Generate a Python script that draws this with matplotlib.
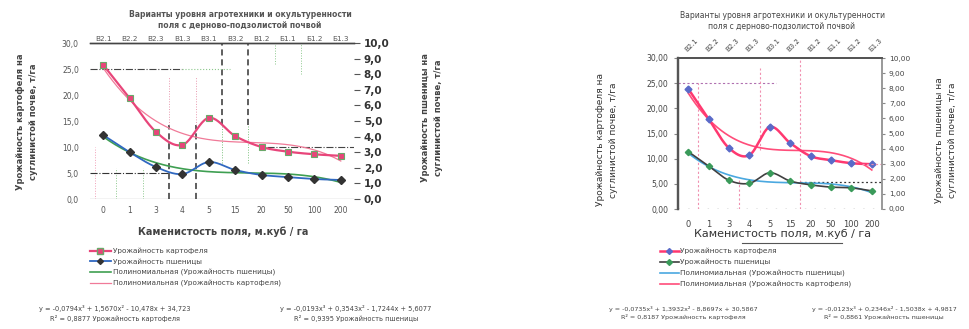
import numpy as np
import matplotlib
matplotlib.use("Agg")
import matplotlib.pyplot as plt
from matplotlib.lines import Line2D

plt.rcParams['font.family'] = ['DejaVu Sans']

# ---------------- data ----------------
stoniness = ["0", "1", "3", "4", "5", "15", "20", "50", "100", "200"]
variants = ["В2.1", "В2.2", "В2.3", "В1.3", "В3.1", "В3.2", "В1.2", "Б1.1", "Б1.2", "Б1.3"]

# panel A (left)
potato_a = [25.8, 19.4, 12.9, 10.4, 15.6, 12.1, 10.0, 9.1, 8.6, 8.3]
wheat_a = [4.1, 3.0, 2.05, 1.6, 2.37, 1.86, 1.54, 1.41, 1.28, 1.22]
eq_a_potato = "y = -0,0794x³ + 1,5670x² - 10,478x + 34,723\nR² = 0,8877 Урожайность картофеля"
eq_a_wheat = "y = -0,0193x³ + 0,3543x² - 1,7244x + 5,6077\nR² = 0,9395 Урожайность пшеницы"

# panel B (right)
potato_b = [23.9, 17.9, 12.1, 10.7, 16.3, 13.1, 10.5, 9.7, 9.1, 8.9]
wheat_b = [3.8, 2.85, 1.9, 1.7, 2.4, 1.85, 1.6, 1.45, 1.4, 1.2]

title_text = "Варианты уровня агротехники и окультуренности\nполя с дерново-подзолистой почвой"
xlabel_text = "Каменистость поля, м.куб / га"
ylabel_left = "Урожайность картофеля на\nсуглинистой почве, т/га"
ylabel_right = "Урожайность пшеницы на\nсуглинистой почве, т/га"
legend_a = ["Урожайность картофеля", "Урожайность пшеницы",
            "Полиномиальная (Урожайность пшеницы)",
            "Полиномиальная (Урожайность картофеля)"]
legend_b = ["Урожайность картофеля", "Урожайность пшеницы",
            "Полиномиальная (Урожайность пшеницы)",
            "Полиномиальная (Урожайность картофеля)"]

GRAY = "#555555"


def smooth(xs, ys, n=24):
    """Catmull-Rom curve through the points (spreadsheet-style smoothed line)."""
    p = np.column_stack([xs, ys]).astype(float)
    p = np.vstack([p[0], p, p[-1]])
    out = []
    t = np.linspace(0, 1, n)[:, None]
    for i in range(1, len(p) - 2):
        p0, p1, p2, p3 = p[i - 1], p[i], p[i + 1], p[i + 2]
        seg = 0.5 * (2 * p1 + (-p0 + p2) * t + (2 * p0 - 5 * p1 + 4 * p2 - p3) * t ** 2
                     + (-p0 + 3 * p1 - 3 * p2 + p3) * t ** 3)
        out.append(seg)
    c = np.vstack(out)
    return c[:, 0], c[:, 1]


def trend(ys):
    """Cubic polynomial trend fitted on positions 1..n."""
    k = np.arange(1, len(ys) + 1)
    coef = np.polyfit(k, ys, 3)
    kk = np.linspace(1, len(ys), 200)
    return kk - 1, np.polyval(coef, kk), coef


def fmt_eq(coef, r2, name):
    a, b, c, d = coef
    s = lambda v: f"{abs(v):.4f}".replace(".", ",")
    sg = lambda v: "+" if v >= 0 else "-"
    return (f"y = {'-' if a < 0 else ''}{s(a)}x³ {sg(b)} {s(b)}x² {sg(c)} {s(c)}x {sg(d)} {s(d)}\n"
            f"R² = {r2:.4f}".replace(".", ",") + f" {name}")


def r2(ys, coef):
    ys = np.asarray(ys)
    fit = np.polyval(coef, np.arange(1, len(ys) + 1))
    return 1 - np.sum((ys - fit) ** 2) / np.sum((ys - ys.mean()) ** 2)


W, H = 969, 329
fig = plt.figure(figsize=(W / 100, H / 100), dpi=100)


def box(x0, y0, x1, y1):
    return [x0 / W, 1 - y1 / H, (x1 - x0) / W, (y1 - y0) / H]


x = np.arange(len(stoniness))

# ================= panel A =================
ax = fig.add_axes(box(90, 43, 354, 199))
ax2 = ax.twinx()
ax.set_xlim(-0.5, 9.5)
ax.set_ylim(0, 30)
ax2.set_ylim(0, 10)
for a in (ax, ax2):
    for sp in ("left", "right", "bottom"):
        a.spines[sp].set_visible(False)
    a.spines["top"].set_color("#444444")
    a.spines["top"].set_linewidth(1.0)
ax.axhline(0, color="#333333", lw=0.8, zorder=1)

ax.set_xticks(x, stoniness)
ax.set_yticks(np.arange(0, 31, 5), [f"{v:.1f}".replace(".", ",") for v in np.arange(0, 31, 5)])
ax.tick_params(axis="x", length=0, labelsize=5.5, labelcolor=GRAY, pad=5)
ax.tick_params(axis="y", length=0, labelsize=5.5, labelcolor=GRAY, pad=8)
ax2.set_yticks(np.arange(0, 11, 1), [f"{v:.1f}".replace(".", ",") for v in np.arange(0, 11, 1)])
ax2.tick_params(axis="y", length=4, color="#555555", labelsize=7.5, labelcolor="#333333", pad=3)
for lab in ax2.get_yticklabels():
    lab.set_fontweight("bold")
top = ax.secondary_xaxis("top")
top.set_xticks(x, variants)
top.tick_params(length=0, labelsize=5.2, labelcolor=GRAY, pad=1)
top.spines["top"].set_visible(False)

# guide lines
for xv in (2.5, 3.5):
    ax.plot([xv, xv], [0, 14.2], ls=(0, (4, 2.5)), color="#333333", lw=1.1, zorder=2)
    ax.plot([xv, xv], [14.2, 23.5], ls=":", color="#e89ab0", lw=0.7, zorder=2)
for xv in (4.5, 5.5):
    ax.plot([xv, xv], [14.2, 30], ls=(0, (4, 2.5)), color="#333333", lw=1.1, zorder=2)
    ax.plot([xv, xv], [7.0, 14.2], ls=":", color="#7cc07c", lw=0.7, zorder=2)
for xv, y0, y1, c in [(-0.3, 0, 10, "#f0a0b8"), (0.5, 0, 6, "#8cc88c"), (1.5, 0, 6, "#8cc88c"),
                      (6.5, 26, 30, "#8cc88c"), (7.5, 24, 30, "#8cc88c"), (9.6, 24, 30, "#f0a0b8")]:
    ax.plot([xv, xv], [y0, y1], ls=":", color=c, lw=0.7, zorder=2)
ax.plot([-0.5, 3.0], [25, 25], ls="-.", color="#444444", lw=0.8, zorder=2)
ax.plot([3.0, 4.8], [25, 25], ls=":", color="#8cc88c", lw=0.8, zorder=2)
ax.plot([-0.5, 2.5], [5, 5], ls="-.", color="#333333", lw=0.8, zorder=2)
ax.plot([6.2, 9.5], [10, 10], ls="-.", color="#444444", lw=0.8, zorder=2)

# series
tx, ty, ca = trend(potato_a)
ax.plot(tx, ty, color="#f07a98", lw=0.9, zorder=3)
sx, sy = smooth(x, potato_a)
ax.plot(sx, sy, color="#e8457a", lw=1.6, zorder=4)
ax.plot(x, potato_a, ls="none", marker="s", ms=5, mfc="#e8457a", mec="#6aa86a", mew=0.8, zorder=5)

tx, ty, cw = trend(wheat_a)
ax2.plot(tx, ty, color="#3f9f52", lw=1.2, zorder=3)
sx, sy = smooth(x, wheat_a)
ax2.plot(sx, sy, color="#3068c0", lw=1.3, zorder=4)
ax2.plot(x, wheat_a, ls="none", marker="D", ms=4, mfc="#333333", mec="#333333", zorder=5)

fig.text(240 / W, 1 - 20 / H, title_text, ha="center", va="center", fontsize=5.5,
         fontweight="bold", color=GRAY, linespacing=1.3)
fig.text(223 / W, 1 - 232 / H, xlabel_text, ha="center", va="center", fontsize=7,
         fontweight="bold", color="#444444")
fig.text(27 / W, 1 - 122 / H, ylabel_left, ha="center", va="center", rotation=90,
         fontsize=6, fontweight="bold", color="#444444", linespacing=1.6)
fig.text(432 / W, 1 - 118 / H, ylabel_right, ha="center", va="center", rotation=90,
         fontsize=6, fontweight="bold", color="#444444", linespacing=1.6)

handles_a = [
    Line2D([], [], color="#e8457a", lw=1.6, marker="s", ms=4, mfc="#e8457a", mec="#6aa86a"),
    Line2D([], [], color="#3068c0", lw=1.3, marker="D", ms=3, mfc="#333333", mec="#333333"),
    Line2D([], [], color="#3f9f52", lw=1.2),
    Line2D([], [], color="#f07a98", lw=0.9),
]
fig.legend(handles_a, legend_a, loc="upper left", bbox_to_anchor=(86 / W, 1 - 244 / H),
           frameon=False, fontsize=5.2, handlelength=3.0, handletextpad=0.3,
           labelspacing=0.55, borderpad=0, labelcolor="#444444")

fig.text(115 / W, 1 - 314 / H, eq_a_potato, ha="center", va="center", fontsize=4.8,
         color="#444444", linespacing=1.5)
fig.text(356 / W, 1 - 314 / H, eq_a_wheat, ha="center", va="center", fontsize=4.8,
         color="#444444", linespacing=1.5)

# ================= panel B =================
bx = fig.add_axes(box(678, 58, 882, 209))
bx2 = bx.twinx()
bx.set_xlim(-0.5, 9.5)
bx.set_ylim(0, 30)
bx2.set_ylim(0, 10)
for a in (bx, bx2):
    a.spines["bottom"].set_visible(False)
    a.spines["top"].set_color("#555555")
    a.spines["top"].set_linewidth(1.4)
    a.spines["left"].set_color("#555555")
    a.spines["left"].set_linewidth(1.6)
    a.spines["right"].set_color("#999999")
    a.spines["right"].set_linewidth(1.2)
bx.plot([-0.5, 9.5], [0, 0], ls=(0, (1, 6)), color="#777777", lw=1.0, zorder=1)

bx.set_xticks(x, stoniness)
bx.set_yticks(np.arange(0, 31, 5), [f"{v:.2f}".replace(".", ",") for v in np.arange(0, 31, 5)])
bx.tick_params(axis="x", length=0, labelsize=6, labelcolor="#444444", pad=8)
bx.tick_params(axis="y", length=3, color="#888888", labelsize=5.5, labelcolor="#444444", pad=4)
bx2.set_yticks(np.arange(0, 11, 1), [f"{v:.2f}".replace(".", ",") for v in np.arange(0, 11, 1)])
bx2.tick_params(axis="y", length=2, color="#888888", labelsize=5.3, labelcolor="#444444", pad=3)
topb = bx.secondary_xaxis("top")
topb.set_xticks(x, variants)
topb.tick_params(length=0, labelsize=5, labelcolor="#444444", pad=4, labelrotation=45)
for lab in topb.get_xticklabels():
    lab.set_ha("left")
    lab.set_rotation_mode("anchor")
topb.spines["top"].set_visible(False)

# guide lines
bx.plot([-0.5, 4.3], [25, 25], ls=(0, (2, 2)), color="#b070b0", lw=0.8, zorder=2)
for xv, y0, y1 in [(0.5, 0, 25), (2.5, 0, 6), (3.5, 11.7, 28), (5.5, 0, 30)]:
    bx.plot([xv, xv], [y0, y1], ls=(0, (2, 2)), color="#f090b0", lw=0.8, zorder=2)
bx2.plot([5.5, 9.6], [1.8, 1.8], ls=(0, (1.5, 2)), color="#333333", lw=0.9, zorder=2)
bx2.plot([8.5, 9.6], [3.0, 3.0], ls=(0, (2, 2)), color="#f090b0", lw=0.8, zorder=2)

tx, ty, cbp = trend(potato_b)
bx.plot(tx, ty, color="#ff4d7a", lw=1.2, zorder=3)
sx, sy = smooth(x, potato_b)
bx.plot(sx, sy, color="#ff3870", lw=1.8, zorder=4)
bx.plot(x, potato_b, ls="none", marker="D", ms=3.5, mfc="#5a6ac8", mec="#5a6ac8", zorder=5)

tx, ty, cbw = trend(wheat_b)
bx2.plot(tx, ty, color="#4aa8e0", lw=1.2, zorder=3)
sx, sy = smooth(x, wheat_b)
bx2.plot(sx, sy, color="#404040", lw=1.2, zorder=4)
bx2.plot(x, wheat_b, ls="none", marker="D", ms=3.2, mfc="#3a9a5a", mec="#3a9a5a", zorder=5)

fig.text(782 / W, 1 - 21 / H, title_text, ha="center", va="center", fontsize=5.5,
         color="#444444", linespacing=1.4)
fig.text(783 / W, 1 - 234 / H, xlabel_text, ha="center", va="center", fontsize=8,
         color="#333333")
fig.add_artist(Line2D([742 / W, 842 / W], [1 - 243 / H, 1 - 243 / H], color="#555555", lw=0.8))
fig.text(607 / W, 1 - 140 / H, ylabel_left, ha="center", va="center", rotation=90,
         fontsize=6.5, color="#333333", linespacing=1.7)
fig.text(946 / W, 1 - 140 / H, ylabel_right, ha="center", va="center", rotation=90,
         fontsize=6.5, color="#333333", linespacing=1.7)

handles_b = [
    Line2D([], [], color="#ff3870", lw=1.8, marker="D", ms=3, mfc="#5a6ac8", mec="#5a6ac8"),
    Line2D([], [], color="#404040", lw=1.2, marker="D", ms=3, mfc="#3a9a5a", mec="#3a9a5a"),
    Line2D([], [], color="#4aa8e0", lw=1.2),
    Line2D([], [], color="#ff4d7a", lw=1.2),
]
fig.legend(handles_b, legend_b, loc="upper left", bbox_to_anchor=(656 / W, 1 - 244 / H),
           frameon=False, fontsize=5.3, handlelength=2.6, handletextpad=0.1,
           labelspacing=0.62, borderpad=0, labelcolor="#444444")

fig.text(683 / W, 1 - 313 / H, fmt_eq(cbp, r2(potato_b, cbp), "Урожайность картофеля"),
         ha="center", va="center", fontsize=4.6, color="#444444", linespacing=1.5)
fig.text(884 / W, 1 - 313 / H, fmt_eq(cbw, r2(wheat_b, cbw), "Урожайность пшеницы"),
         ha="center", va="center", fontsize=4.6, color="#444444", linespacing=1.5)

fig.savefig("out.png", dpi=100, facecolor="white")
